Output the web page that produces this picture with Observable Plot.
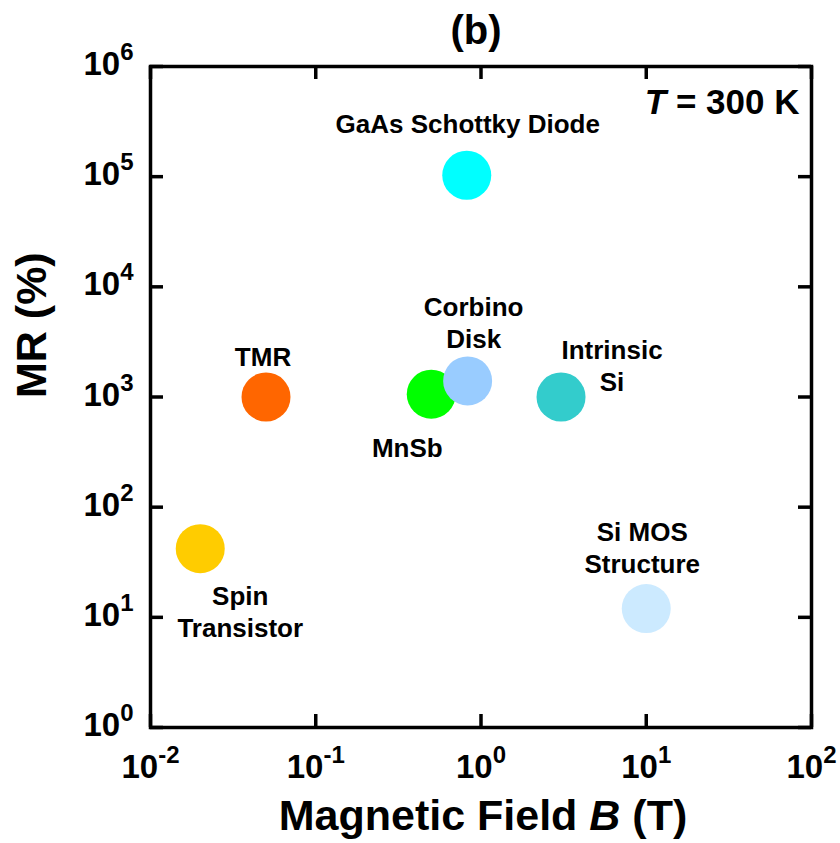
<!DOCTYPE html>
<html>
<head>
<meta charset="utf-8">
<script src="https://cdn.jsdelivr.net/npm/d3@7"></script>
<script src="https://cdn.jsdelivr.net/npm/@observablehq/plot@0.6"></script>
<style>
  html, body { margin: 0; padding: 0; background: #fff; }
  #chart { width: 840px; height: 843px; }
</style>
</head>
<body>
<div id="chart"></div>
<script>
// Room-temperature magnetoresistance of several devices vs. the field needed
const devices = ["Spin\nTransistor", "TMR", "MnSb", "Corbino\nDisk", "GaAs Schottky Diode", "Intrinsic\nSi", "Si MOS\nStructure"];
const fieldT = [0.02, 0.05, 0.5, 0.83, 0.82, 3.05, 10];
const mrPercent = [42, 1000, 1060, 1400, 1.03e5, 1000, 12];
const deviceColors = ["#FFCC00", "#FF6600", "#00FF00", "#99CCFF", "#00FFFF", "#33CCCC", "#CCEAFF"];

const xTicks = [1e-2, 1e-1, 1e0, 1e1, 1e2];
const yTicks = [1e0, 1e1, 1e2, 1e3, 1e4, 1e5, 1e6];

// label placement around each dot, in pixels (text centre, last baseline)
const labelDx = [40, -3, -24, 6, 1, 51, -4];
const labelDy = [88, -31, 63, -33, -42, -6, -36];

const rows = devices.map((name, i) => ({name, field: fieldT[i], mr: mrPercent[i], color: deviceColors[i]}));

const W = 840, H = 843;
const mL = 150, mR = 29, mT = 66, mB = 116;
const innerW = W - mL - mR, innerH = H - mT - mB;
const tickLen = 13;
const font = "'Liberation Sans', Arial, Helvetica, sans-serif";
const pow = d => "10^" + Math.round(Math.log10(d));

const chart = Plot.plot({
  width: W, height: H,
  marginLeft: mL, marginRight: mR, marginTop: mT, marginBottom: mB,
  style: {fontFamily: font, fontWeight: "bold", background: "#fff", color: "#000"},
  x: {type: "log", domain: [1e-2, 1e2]},
  y: {type: "log", domain: [1e0, 1e6]},
  color: {type: "identity"},
  marks: [
    Plot.axisX(xTicks, {anchor: "bottom", tickSize: 0, tickPadding: 27, tickFormat: pow, fontSize: 33, label: null}),
    Plot.axisY(yTicks, {anchor: "left", tickSize: 0, tickPadding: 17, tickFormat: pow, fontSize: 33, label: null, dy: -2}),
    // inward ticks on all four sides
    Plot.ruleX(xTicks, {x: d => d, insetTop: innerH - tickLen, strokeWidth: 3.5}),
    Plot.ruleX(xTicks, {x: d => d, insetBottom: innerH - tickLen, strokeWidth: 3.5}),
    Plot.ruleY(yTicks, {y: d => d, insetRight: innerW - tickLen, strokeWidth: 3.5}),
    Plot.ruleY(yTicks, {y: d => d, insetLeft: innerW - tickLen, strokeWidth: 3.5}),
    Plot.frame({strokeWidth: 3.5}),
    Plot.dot(rows, {x: "field", y: "mr", r: 24.5, fill: "color"}),
    ...rows.map((row, i) => Plot.text([row], {
      x: "field", y: "mr", text: "name",
      dx: labelDx[i], dy: labelDy[i],
      lineAnchor: "bottom", lineHeight: 1.23,
      fontSize: 26, fontWeight: "bold", fill: "#000"
    })),
    Plot.text(["(b)"], {text: d => d, frameAnchor: "top", dx: -5, dy: -23, lineAnchor: "bottom", fontSize: 40}),
    Plot.text(["T = 300 K"], {text: d => d, frameAnchor: "top-right", textAnchor: "end", dx: -12, dy: 47, lineAnchor: "bottom", fontSize: 35}),
    Plot.text(["Magnetic Field B (T)"], {text: d => d, frameAnchor: "bottom", dx: 2, dy: 102, lineAnchor: "bottom", fontSize: 43}),
    Plot.text(["MR (%)"], {text: d => d, frameAnchor: "left", rotate: -90, dx: -105, dy: 1, lineAnchor: "bottom", fontSize: 43})
  ]
});

document.getElementById("chart").append(chart);

// powers of ten with raised exponents
d3.select(chart)
  .selectAll('g[aria-label="x-axis tick label"] text, g[aria-label="y-axis tick label"] text')
  .each(function () {
    const [base, exp] = this.textContent.split("^");
    const t = d3.select(this);
    t.text(null);
    t.append("tspan").text(base);
    t.append("tspan").attr("dy", -15).attr("font-size", 24).text(exp);
  });

// italic symbols inside the titles
d3.select(chart).selectAll("text").each(function () {
  const t = d3.select(this);
  if (this.textContent === "Magnetic Field B (T)") {
    t.text(null);
    t.append("tspan").text("Magnetic Field ");
    t.append("tspan").attr("font-style", "italic").text("B");
    t.append("tspan").text(" (T)");
  } else if (this.textContent === "T = 300 K") {
    t.text(null);
    t.append("tspan").attr("font-style", "italic").text("T");
    t.append("tspan").text(" = 300 K");
  }
});
</script>
</body>
</html>
